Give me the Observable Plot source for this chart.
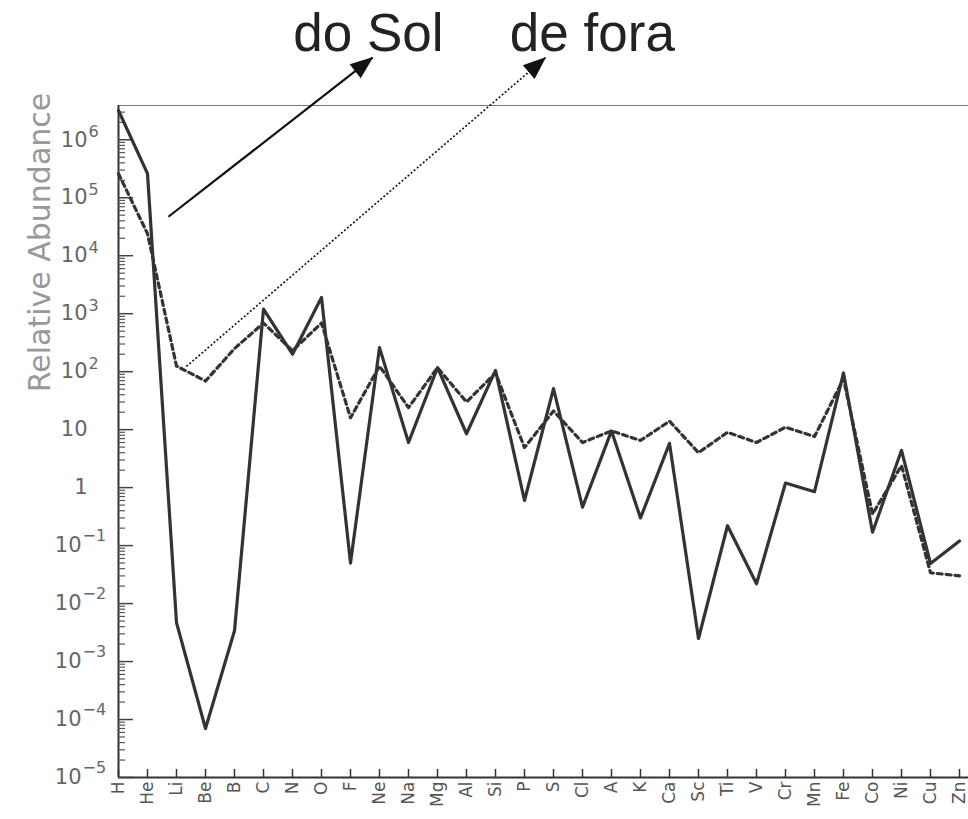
<!DOCTYPE html>
<html><head><meta charset="utf-8">
<script src="https://cdn.jsdelivr.net/npm/d3@7"></script>
<script src="https://cdn.jsdelivr.net/npm/@observablehq/plot@0.6"></script>
<style>
body{margin:0;background:#fff}
#chart svg{display:block}
</style>
</head><body><div id="chart"></div>
<script>
// Elements along the x axis
const elements = ["H","He","Li","Be","B","C","N","O","F","Ne","Na","Mg","Al","Si","P","S","Cl","A","K","Ca","Sc","Ti","V","Cr","Mn","Fe","Co","Ni","Cu","Zn"];
// "do Sol" (solar system abundance) – solid line
const solar = [3.2e6, 2.6e5, 4.7e-3, 7e-5, 3.4e-3, 1200, 200, 1900, 0.05, 260, 6, 117, 8.5, 105, 0.6, 51, 0.46, 9.5, 0.3, 5.8, 2.5e-3, 0.22, 0.022, 1.2, 0.85, 95, 0.17, 4.4, 0.049, 0.12];
// "de fora" (cosmic rays) – dotted line
const cosmic = [2.6e5, 2.4e4, 125, 69, 250, 690, 230, 690, 16, 125, 24, 117, 30, 95, 4.9, 21, 6, 9.5, 6.5, 14, 4, 9, 6, 11, 7.6, 75, 0.35, 2.4, 0.034, 0.03];
// y tick values and labels
const yTickValues = [1e-5, 1e-4, 1e-3, 1e-2, 1e-1, 1, 10, 1e2, 1e3, 1e4, 1e5, 1e6];
const yTickLabels = ["10^\u22125","10^\u22124","10^\u22123","10^\u22122","10^\u22121","1","10","10^2","10^3","10^4","10^5","10^6"];
const yTop = 3.9e6;
// annotations (arrows and their labels)
const annotations = [
  {label: "do Sol", x1: 1.72, y1: 4.7e4, x2: 8.76, y2: 2.6e7, tx: 8.62, ty: 6.7e7, dotted: false},
  {label: "de fora", x1: 2.34, y1: 123, x2: 14.72, y2: 2.6e7, tx: 16.34, ty: 6.7e7, dotted: true}
];

const rows = elements.map((e, i) => ({i, e, solar: solar[i], cosmic: cosmic[i]}));
const xTicks = elements.map((_, i) => i);
const minorTicks = [];
for (let d = -5; d <= 6; d++) for (let k = 2; k <= 9; k++) { const v = k * Math.pow(10, d); if (v < yTop) minorTicks.push(v); }
const labelOf = new Map(yTickValues.map((v, i) => [v, yTickLabels[i]]));

const chart = Plot.plot({
  width: 968, height: 819,
  marginLeft: 118, marginRight: 0, marginTop: 105, marginBottom: 42,
  style: {fontFamily: "DejaVu Sans", background: "#fff"},
  x: {type: "linear", domain: [0, 29.31]},
  y: {type: "log", domain: [1e-5, yTop]},
  marks: [
    Plot.ruleY([yTop], {stroke: "#777", strokeWidth: 1.2}),
    Plot.ruleY([1e-5], {stroke: "#333", strokeWidth: 2}),
    Plot.ruleX([0], {stroke: "#333", strokeWidth: 2}),
    Plot.axisY({ticks: minorTicks, tickSize: 7, dx: 7, tickFormat: () => "", color: "#555", strokeWidth: 1.2}),
    Plot.axisY({ticks: yTickValues, tickSize: 15, dx: 15, tickFormat: () => "", color: "#444", strokeWidth: 1.5}),
    Plot.axisY({ticks: yTickValues, tickSize: 0, tickPadding: 31, tickFormat: v => labelOf.get(v), fontSize: 21, color: "#666", label: null}),
    Plot.axisX({ticks: xTicks, tickSize: 8, dy: -8, tickFormat: () => "", color: "#333", strokeWidth: 1.5}),
    Plot.axisX({ticks: xTicks, tickSize: 0, tickPadding: 4, tickRotate: -90, tickFormat: i => elements[i], fontSize: 17, color: "#555", label: null}),
    Plot.text(["Relative Abundance"], {frameAnchor: "top-left", rotate: -90, dx: -90, dy: 137, fontSize: 30, fill: "#999", textAnchor: "middle"}),
    Plot.line(rows, {x: "i", y: "cosmic", stroke: "#333", strokeWidth: 3.2, strokeDasharray: "5,4"}),
    Plot.line(rows, {x: "i", y: "solar", stroke: "#333", strokeWidth: 3.2}),
    Plot.link(annotations.filter(d => !d.dotted), {x1: "x1", y1: "y1", x2: "x2", y2: "y2", stroke: "#111", strokeWidth: 2.2}),
    Plot.link(annotations.filter(d => d.dotted), {x1: "x1", y1: "y1", x2: "x2", y2: "y2", stroke: "#111", strokeWidth: 1.6, strokeDasharray: "2,2"}),
    Plot.text(annotations, {x: "tx", y: "ty", text: "label", fontSize: 53, fill: "#222", fontFamily: "Liberation Sans", textAnchor: "middle"})
  ]
});
document.getElementById("chart").appendChild(chart);

// post-processing: filled arrow heads and superscript exponents
const ns = "http://www.w3.org/2000/svg";
const svg = chart.tagName.toLowerCase() === "svg" ? chart : chart.querySelector("svg");
const defs = document.createElementNS(ns, "defs");
const marker = document.createElementNS(ns, "marker");
marker.setAttribute("id", "fhead");
marker.setAttribute("markerUnits", "userSpaceOnUse");
marker.setAttribute("viewBox", "-24 -12 26 24");
marker.setAttribute("markerWidth", "26");
marker.setAttribute("markerHeight", "24");
marker.setAttribute("refX", "0");
marker.setAttribute("refY", "0");
marker.setAttribute("orient", "auto");
const mp = document.createElementNS(ns, "path");
mp.setAttribute("d", "M1,0 L-22,-9 L-22,9 Z");
mp.setAttribute("fill", "#111");
mp.setAttribute("stroke", "none");
marker.appendChild(mp);
defs.appendChild(marker);
svg.insertBefore(defs, svg.firstChild);
svg.querySelectorAll('g[aria-label="link"] path, g[aria-label="link"] line').forEach(p => p.setAttribute("marker-end", "url(#fhead)"));

svg.querySelectorAll('g[aria-label="y-axis tick label"] text').forEach(t => {
  const m = t.textContent.match(/^10\^(.+)$/);
  if (!m) return;
  const neg = m[1].startsWith("\u2212");
  t.textContent = "10";
  if (neg) t.setAttribute("dx", "-6");
  const sup = t.cloneNode(false);
  sup.textContent = m[1];
  sup.setAttribute("text-anchor", "start");
  sup.setAttribute("font-size", "16");
  sup.setAttribute("y", neg ? "-5" : "-3");
  sup.setAttribute("dx", neg ? "-5" : "1");
  t.after(sup);
});
</script>
</body></html>
